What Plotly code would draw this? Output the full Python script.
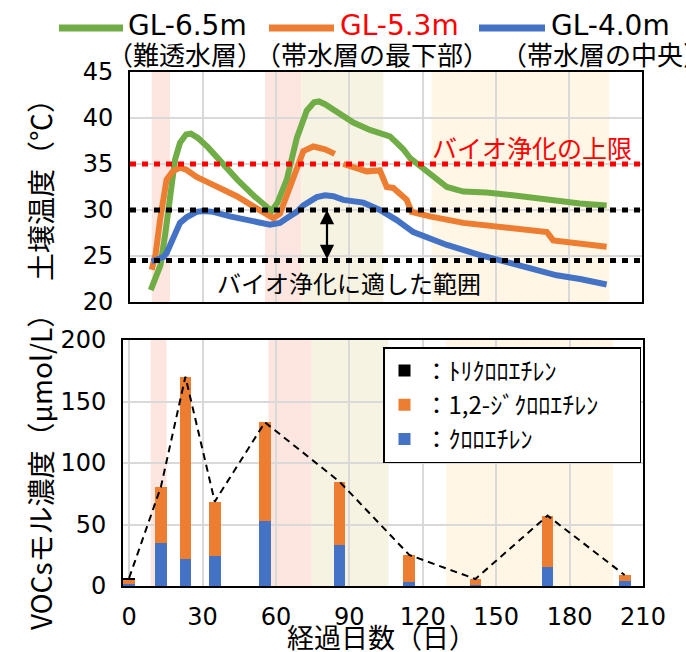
import plotly.graph_objects as go

W, H = 686, 652
def px(x): return x / W
def py(y): return 1 - y / H

JP = "Noto Sans CJK JP"
NUM = "DejaVu Sans, Noto Sans CJK JP"

# ---------------- temperature data (top panel) ----------------
green_days = [8.5, 12.5, 14.5, 16.5, 18.5, 20.5, 23, 25, 28, 32, 37, 44, 51, 56, 58.1,
              60.5, 64.3, 68.4, 72.5, 75.5, 77.5, 80, 84, 91.6, 98.4, 103, 106.6, 109,
              112.1, 115, 118.9, 123, 126, 130, 136.7, 146.3, 157, 171, 184.6, 195.5]
green_temp = [21.3, 24.0, 27.5, 32.0, 35.5, 37.3, 38.2, 38.3, 37.8, 36.8, 35.3, 33.3, 31.5, 30.3, 29.9,
              30.8, 33.3, 37.8, 40.8, 41.7, 41.8, 41.5, 40.8, 39.5, 38.7, 38.4, 38.0, 37.4,
              36.6, 35.6, 34.8, 34.0, 33.2, 32.5, 32.0, 31.9, 31.6, 31.1, 30.7, 30.5]

orange_days = [8.9, 10.5, 12.3, 15, 17.5, 20.5, 23, 27.3, 32, 36.9, 43.8, 50.6, 55, 58.8,
               61.5, 64.3, 67, 71.1, 75.2, 80, 84, None, 87.5, 92, 97.1, 102.5, 105.3, 108,
               110.7, 113.5, 115.5, 123, 136.7, 150.4, 160, 171, 173.6, 184.6, 195.5]
orange_temp = [23.5, 25.2, 28.9, 33.3, 34.2, 34.6, 34.4, 33.6, 33.0, 32.4, 31.5, 30.4, 29.6, 29.1,
               29.6, 31.5, 33.5, 36.4, 36.9, 36.6, 36.1, None, 35.0, 34.6, 34.2, 34.3, 32.5, 32.4,
               31.8, 31.1, 29.8, 29.3, 28.6, 28.2, 28.0, 27.6, 26.7, 26.4, 26.0]

blue_days = [8.9, 13.7, 15, 17.8, 20.5, 23.2, 27.3, 30, 34.2, 41, 47.8, 52, 57.4, 61.5,
             64.3, 68.4, 71.1, 76.6, 80, 83.4, 87.5, 91.6, 95.7, 102.5, 109.4, 116.2, 130,
             143.6, 157, 171, 175, 184.6, 195.5]
blue_temp = [24.4, 24.9, 25.3, 27.0, 28.6, 29.2, 29.8, 29.9, 29.8, 29.3, 29.0, 28.7, 28.4, 28.6,
             29.1, 29.8, 30.5, 31.4, 31.6, 31.5, 31.1, 31.0, 30.8, 30.0, 28.9, 27.6, 26.2,
             25.1, 24.2, 23.3, 22.9, 22.5, 21.9]

upper_limit = 35.0
suitable_range = [30.0, 24.5]

# ---------------- VOC data (bottom panel) ----------------
sample_days = [0, 13, 23, 35, 55.5, 86, 114.5, 141.5, 171, 202.5]
tce = [2, 0, 0, 0, 0, 0, 0, 0, 0, 0]
dce = [2.5, 46, 148, 44, 80, 51.5, 21.7, 4.9, 41.5, 4.8]
ce = [2, 34.7, 22.2, 24.6, 53.1, 33.3, 3.5, 0.8, 15.7, 4.1]
total = [a + b + c for a, b, c in zip(tce, dce, ce)]

x_ticks = [0, 30, 60, 90, 120, 150, 180, 210]

# bands (days)
top_bands = [(8.9, 16.4, "#FCE6DF"), (55.4, 70.4, "#FCE6DF"),
             (70.4, 103.9, "#F6F3E3"), (123.7, 196.6, "#FFF6E5")]
bot_bands = [(8.8, 15.3, "#FCE6DF"), (56.9, 74.6, "#FCE6DF"),
             (74.6, 106.0, "#F6F3E3"), (129.6, 197.8, "#FFF6E5")]

GREEN, ORANGE, BLUE = "#70AD47", "#ED7D31", "#4472C4"

fig = go.Figure()

for d, t, c in [(green_days, green_temp, GREEN), (orange_days, orange_temp, ORANGE),
                (blue_days, blue_temp, BLUE)]:
    fig.add_trace(go.Scatter(x=d, y=t, mode="lines", line=dict(color=c, width=6),
                             showlegend=False, xaxis="x", yaxis="y", hoverinfo="skip"))

fig.add_trace(go.Bar(x=sample_days, y=ce, name="：ｸﾛﾛｴﾁﾚﾝ", marker=dict(color=BLUE, line=dict(width=0)),
                     width=4.8, xaxis="x2", yaxis="y2", legendrank=3))
fig.add_trace(go.Bar(x=sample_days, y=dce, name="：1,2-ｼﾞｸﾛﾛｴﾁﾚﾝ\u2003\u2002",
                     marker=dict(color=ORANGE, line=dict(width=0)),
                     width=4.8, xaxis="x2", yaxis="y2", legendrank=2))
fig.add_trace(go.Bar(x=sample_days, y=tce, name="：ﾄﾘｸﾛﾛｴﾁﾚﾝ", marker=dict(color="black", line=dict(width=0)),
                     width=4.8, xaxis="x2", yaxis="y2", legendrank=1))
fig.add_trace(go.Scatter(x=sample_days, y=total, mode="lines",
                         line=dict(color="black", width=2, dash="7px,5px"),
                         showlegend=False, xaxis="x2", yaxis="y2", hoverinfo="skip"))

shapes = []
for x0, x1, c in top_bands:
    shapes.append(dict(type="rect", xref="x", yref="y domain", x0=x0, x1=x1, y0=0, y1=1,
                       fillcolor=c, line=dict(width=0), layer="below"))
for x0, x1, c in bot_bands:
    shapes.append(dict(type="rect", xref="x2", yref="y2 domain", x0=x0, x1=x1, y0=0, y1=1,
                       fillcolor=c, line=dict(width=0), layer="below"))
shapes.append(dict(type="line", xref="x domain", yref="y", x0=0, x1=1, y0=upper_limit, y1=upper_limit,
                   line=dict(color="#FF0000", width=5, dash="6px,6px"), layer="above"))
for v in suitable_range:
    shapes.append(dict(type="line", xref="x domain", yref="y", x0=0, x1=1, y0=v, y1=v,
                       line=dict(color="black", width=5, dash="6px,6px"), layer="above"))

# top legend line samples
for x0, x1, c in [(59, 123, GREEN), (269, 334, ORANGE), (479, 545, BLUE)]:
    shapes.append(dict(type="line", xref="paper", yref="paper", x0=px(x0), x1=px(x1),
                       y0=py(28), y1=py(28), line=dict(color=c, width=7)))

ann = []
for x, txt, col in [(126, "GL-6.5m", "black"), (338, "GL-5.3m", "#FF0000"), (549, "GL-4.0m", "black")]:
    ann.append(dict(xref="paper", yref="paper", x=px(x), y=py(26), text=txt, showarrow=False,
                    xanchor="left", yanchor="middle", font=dict(family=NUM, size=28, color=col)))
for x, txt in [(185, "（難透水層）"), (372, "（帯水層の最下部）"), (605, "（帯水層の中央）")]:
    ann.append(dict(xref="paper", yref="paper", x=px(x), y=py(54), text=txt, showarrow=False,
                    xanchor="center", yanchor="middle", font=dict(family=JP, size=26, color="black")))

ann.append(dict(xref="x", yref="y", x=165, y=36.9, text="バイオ浄化の上限", showarrow=False,
                xanchor="center", yanchor="middle", font=dict(family=JP, size=25, color="#FF0000")))
ann.append(dict(xref="x", yref="y", x=90, y=22.1, text="バイオ浄化に適した範囲", showarrow=False,
                xanchor="center", yanchor="middle", font=dict(family=JP, size=24, color="black")))
ann.append(dict(xref="x", yref="y", x=80.8, y=suitable_range[0], axref="x", ayref="y",
                ax=80.8, ay=suitable_range[1], text="", showarrow=True, arrowside="end+start",
                arrowhead=2, arrowsize=1.3, arrowwidth=2.2, arrowcolor="black", standoff=0, startstandoff=0))

ann.append(dict(xref="paper", yref="paper", x=px(40), y=py(183), text="土壌温度（℃）", textangle=-90,
                showarrow=False, xanchor="center", yanchor="middle", font=dict(family=JP, size=28, color="black")))
ann.append(dict(xref="paper", yref="paper", x=px(40), y=py(465), text="VOCsモル濃度（μmol/L）", textangle=-90,
                showarrow=False, xanchor="center", yanchor="middle", font=dict(family=JP, size=28, color="black")))
ann.append(dict(xref="paper", yref="paper", x=px(381), y=py(636), text="経過日数（日）",
                showarrow=False, xanchor="center", yanchor="middle", font=dict(family=JP, size=27, color="black")))

grid = "#D9D9D9"
fig.update_layout(
    template="none",
    width=W, height=H, margin=dict(l=0, r=0, t=0, b=0, pad=0, autoexpand=False),
    paper_bgcolor="white", plot_bgcolor="white",
    barmode="stack", bargap=0,
    shapes=shapes, annotations=ann,
    showlegend=True,
    legend=dict(x=px(383), y=py(347), xanchor="left", yanchor="top", bgcolor="white",
                bordercolor="black", borderwidth=1.5, traceorder="normal",
                font=dict(family=JP, size=24, color="black")),
    xaxis=dict(domain=[px(130), px(642)], range=[0, 210], dtick=30, tick0=0, showticklabels=False,
               showgrid=True, gridcolor=grid, gridwidth=1.5, zeroline=False, automargin=False,
               showline=True, mirror=True, linecolor="black", linewidth=2, ticks="", anchor="y"),
    yaxis=dict(domain=[py(302), py(72)], range=[20, 45], dtick=5, tick0=20, automargin=False,
               showgrid=True, gridcolor=grid, gridwidth=1.5, zeroline=False,
               showline=True, mirror=True, linecolor="black", linewidth=2, ticks="",
               ticklabelstandoff=10, tickfont=dict(family=NUM, size=24, color="black"), anchor="x"),
    xaxis2=dict(domain=[px(123), px(643)], range=[-2.5, 210], tickvals=x_ticks, automargin=False,
                showgrid=True, gridcolor=grid, gridwidth=1.5, zeroline=False,
                showline=True, mirror=True, linecolor="black", linewidth=2, ticks="",
                ticklabelstandoff=8, tickfont=dict(family=NUM, size=24, color="black"), anchor="y2"),
    yaxis2=dict(domain=[py(586), py(340)], range=[0, 200], dtick=50, tick0=0, automargin=False,
                showgrid=True, gridcolor=grid, gridwidth=1.5, zeroline=False,
                showline=True, mirror=True, linecolor="black", linewidth=2, ticks="",
                ticklabelstandoff=10, tickfont=dict(family=NUM, size=24, color="black"), anchor="x2"),
)

fig.write_html("out.html", config={"displayModeBar": False},
               post_script="document.body.style.margin='0px';document.body.style.overflow='hidden';")
